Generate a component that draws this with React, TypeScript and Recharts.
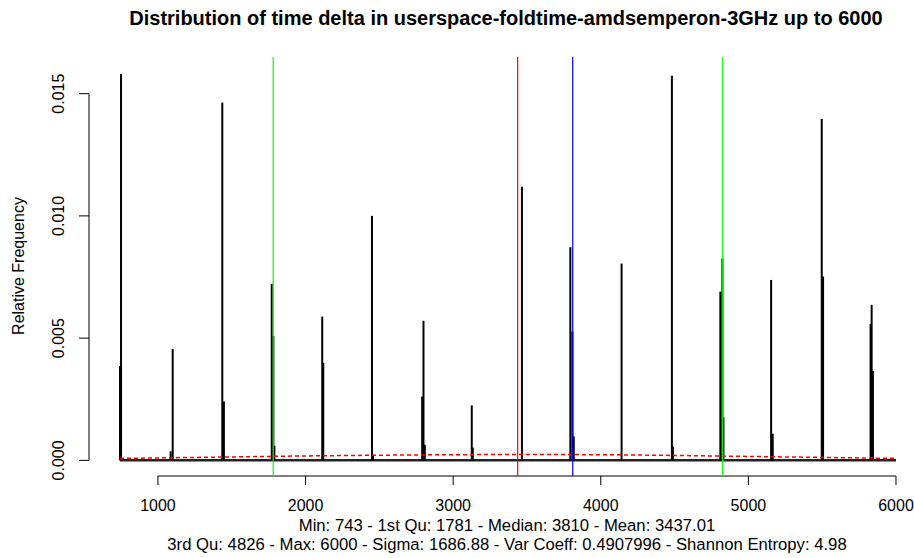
import React from 'react';
import { ComposedChart, Line, XAxis, YAxis, ReferenceLine } from 'recharts';

const FONT = '"Liberation Sans", Arial, Helvetica, sans-serif';

// spikes (time delta -> relative frequency)
const spikeX = [743, 750, 1086, 1100, 1436, 1447, 1771, 1782, 1789, 2113, 2120, 2450, 2457, 2790, 2799, 2808, 3126, 3133, 3466, 3794, 3808, 3817, 4141, 4482, 4489, 4810, 4824, 4831, 5154, 5165, 5497, 5506, 5828, 5835, 5844];
const spikeY = [0.00386, 0.0158, 0.00037, 0.00455, 0.01464, 0.00241, 0.00722, 0.00509, 0.0006, 0.00588, 0.00398, 0.01, 0.00023, 0.00261, 0.00571, 0.00064, 0.00225, 0.00052, 0.01119, 0.00872, 0.00527, 0.00098, 0.00805, 0.01573, 0.00056, 0.0069, 0.00826, 0.00176, 0.00738, 0.00109, 0.01396, 0.00752, 0.00558, 0.00636, 0.00366];

// red dashed reference curve
const curveX = [743, 1000, 1500, 2000, 2500, 3000, 3437, 4000, 4500, 5000, 5500, 6000];
const curveY = [0.00008, 0.0001, 0.00014, 0.00018, 0.00021, 0.00023, 0.00024, 0.00023, 0.0002, 0.00016, 0.00012, 0.00008];

// dense low values along the bottom
const baseX = [743, 6000];
const baseY = [0, 0];

// summary stats lines
const firstQu = 1781;
const median = 3810;
const mean = 3437.01;
const thirdQu = 4826;

const xTicks = [1000, 2000, 3000, 4000, 5000, 6000];
const yTicks = [0, 0.005, 0.01, 0.015];

const curveData = curveX.map((x, i) => ({ x, y: curveY[i] }));
const baseData = baseX.map((x, i) => ({ x, y: baseY[i] }));

const XTick = (props: any) => {
  const { x, y, payload } = props;
  return (
    <text x={x} y={y + 24} textAnchor="middle" fontSize={16} fill="#000" fontFamily={FONT}>
      {payload.value}
    </text>
  );
};

const YTick = (props: any) => {
  const { x, y, payload } = props;
  const tx = x - 13;
  return (
    <text x={tx} y={y} transform={`rotate(-90 ${tx} ${y})`} textAnchor="middle" fontSize={16} fill="#000" fontFamily={FONT}>
      {payload.value.toFixed(3)}
    </text>
  );
};

export default function App() {
  return (
    <div style={{ position: 'absolute', left: 0, top: 0, width: 914, height: 558, background: '#fff', fontFamily: FONT }}>
      <ComposedChart width={914} height={558} margin={{ top: 57, right: 0, bottom: 52, left: 29 }}>
        <XAxis
          type="number"
          dataKey="x"
          domain={[533, 6122]}
          ticks={xTicks}
          allowDataOverflow
          axisLine={false}
          tickLine={{ stroke: '#000' }}
          tickSize={9}
          height={30}
          tick={<XTick />}
        />
        <YAxis
          type="number"
          dataKey="y"
          domain={[-0.00064, 0.0165]}
          ticks={yTicks}
          allowDataOverflow
          axisLine={false}
          tickLine={{ stroke: '#000' }}
          tickSize={10}
          width={60}
          tick={<YTick />}
        />
        {/* axis lines, R style (only between the end ticks) */}
        <ReferenceLine segment={[{ x: 533, y: 0 }, { x: 533, y: 0.015 }]} stroke="#000" ifOverflow="visible" />
        <ReferenceLine segment={[{ x: 1000, y: -0.00064 }, { x: 6000, y: -0.00064 }]} stroke="#000" ifOverflow="visible" />

        <Line data={baseData} dataKey="y" stroke="#222" strokeWidth={2.5} dot={false} isAnimationActive={false} />
        {spikeX.map((x, i) => (
          <ReferenceLine key={'s' + i} segment={[{ x, y: 0 }, { x, y: spikeY[i] }]} stroke="#000" strokeWidth={2} ifOverflow="visible" />
        ))}
        <Line data={curveData} dataKey="y" type="monotone" stroke="#ff0000" strokeWidth={1.5} strokeDasharray="4 3" dot={false} isAnimationActive={false} />

        <ReferenceLine x={firstQu} stroke="#00ff00" strokeWidth={1.2} />
        <ReferenceLine x={thirdQu} stroke="#00ff00" strokeWidth={1.2} />
        <ReferenceLine x={mean} stroke="#ff0000" strokeWidth={1.2} />
        <ReferenceLine x={median} stroke="#0000ff" strokeWidth={1.2} />
      </ComposedChart>
      <svg width={914} height={558} style={{ position: 'absolute', left: 0, top: 0, pointerEvents: 'none' }}>
        <text x={506} y={25} textAnchor="middle" fontWeight="bold" fontSize={20} fill="#000" fontFamily={FONT}>
          Distribution of time delta in userspace-foldtime-amdsemperon-3GHz up to 6000
        </text>
        <text x={24} y={266} transform="rotate(-90 24 266)" textAnchor="middle" fontSize={16} fill="#000" fontFamily={FONT}>
          Relative Frequency
        </text>
        <text x={507} y={531} textAnchor="middle" fontSize={16.7} fill="#000" fontFamily={FONT}>
          Min: 743 - 1st Qu: 1781 - Median: 3810 - Mean: 3437.01
        </text>
        <text x={507} y={550} textAnchor="middle" fontSize={16.7} fill="#000" fontFamily={FONT}>
          3rd Qu: 4826 - Max: 6000 - Sigma: 1686.88 - Var Coeff: 0.4907996 - Shannon Entropy: 4.98
        </text>
      </svg>
    </div>
  );
}
